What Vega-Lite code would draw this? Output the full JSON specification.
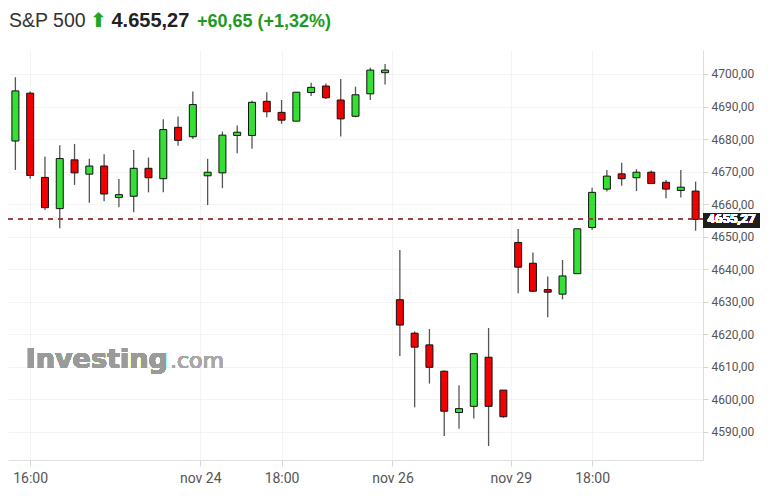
{
  "$schema": "https://vega.github.io/schema/vega-lite/v6.json",
  "autosize": {"type": "none"},
  "padding": {"left": 8, "top": 50, "right": 68, "bottom": 38},
  "width": 695,
  "height": 410,
  "background": "white",
  "config": {"view": {"stroke": null}},
  "data": {"values": [
    {"i":1,"open":4679.4,"high":4699.0,"low":4670.5,"close":4694.8},
    {"i":2,"open":4694.1,"high":4694.6,"low":4667.8,"close":4668.8},
    {"i":3,"open":4668.2,"high":4674.6,"low":4658.2,"close":4658.9},
    {"i":4,"open":4658.6,"high":4678.1,"low":4652.6,"close":4674.0},
    {"i":5,"open":4673.6,"high":4678.5,"low":4665.9,"close":4669.6},
    {"i":6,"open":4669.2,"high":4673.9,"low":4660.4,"close":4671.7},
    {"i":7,"open":4671.7,"high":4675.3,"low":4660.9,"close":4663.1},
    {"i":8,"open":4662.0,"high":4667.7,"low":4659.0,"close":4662.9},
    {"i":9,"open":4662.4,"high":4676.6,"low":4657.5,"close":4671.0},
    {"i":10,"open":4671.0,"high":4674.3,"low":4663.6,"close":4668.1},
    {"i":11,"open":4667.8,"high":4686.1,"low":4663.6,"close":4682.9},
    {"i":12,"open":4683.6,"high":4686.9,"low":4677.9,"close":4679.6},
    {"i":13,"open":4680.7,"high":4694.6,"low":4680.0,"close":4690.6},
    {"i":14,"open":4668.7,"high":4673.9,"low":4659.7,"close":4669.8},
    {"i":15,"open":4669.6,"high":4682.3,"low":4664.9,"close":4681.2},
    {"i":16,"open":4681.1,"high":4684.2,"low":4675.6,"close":4682.1},
    {"i":17,"open":4681.1,"high":4691.8,"low":4677.0,"close":4691.3},
    {"i":18,"open":4691.6,"high":4694.4,"low":4686.7,"close":4688.4},
    {"i":19,"open":4688.2,"high":4692.0,"low":4684.7,"close":4685.8},
    {"i":20,"open":4685.5,"high":4694.4,"low":4685.5,"close":4694.4},
    {"i":21,"open":4694.3,"high":4697.3,"low":4693.2,"close":4695.9},
    {"i":22,"open":4696.3,"high":4697.1,"low":4692.3,"close":4692.7},
    {"i":23,"open":4692.0,"high":4698.5,"low":4680.8,"close":4686.2},
    {"i":24,"open":4687.0,"high":4696.1,"low":4686.7,"close":4693.6},
    {"i":25,"open":4693.9,"high":4701.9,"low":4692.0,"close":4701.2},
    {"i":26,"open":4700.4,"high":4703.1,"low":4696.8,"close":4701.2},
    {"i":27,"open":4630.6,"high":4645.9,"low":4613.3,"close":4622.8},
    {"i":28,"open":4620.3,"high":4620.8,"low":4597.5,"close":4616.0},
    {"i":29,"open":4616.7,"high":4621.6,"low":4604.8,"close":4609.8},
    {"i":30,"open":4608.6,"high":4608.8,"low":4588.7,"close":4596.3},
    {"i":31,"open":4595.9,"high":4604.3,"low":4590.9,"close":4597.1},
    {"i":32,"open":4597.8,"high":4614.0,"low":4594.1,"close":4614.0},
    {"i":33,"open":4612.9,"high":4621.9,"low":4585.6,"close":4597.8},
    {"i":34,"open":4602.8,"high":4602.8,"low":4594.3,"close":4594.6},
    {"i":35,"open":4648.2,"high":4652.3,"low":4632.6,"close":4640.6},
    {"i":36,"open":4641.8,"high":4645.1,"low":4633.0,"close":4633.2},
    {"i":37,"open":4633.7,"high":4637.7,"low":4625.2,"close":4632.9},
    {"i":38,"open":4632.3,"high":4642.8,"low":4630.7,"close":4637.9},
    {"i":39,"open":4638.6,"high":4652.6,"low":4638.6,"close":4652.4},
    {"i":40,"open":4652.8,"high":4665.0,"low":4652.0,"close":4663.6},
    {"i":41,"open":4664.6,"high":4670.5,"low":4663.9,"close":4668.6},
    {"i":42,"open":4669.3,"high":4672.7,"low":4665.6,"close":4667.8},
    {"i":43,"open":4668.1,"high":4670.7,"low":4664.0,"close":4669.8},
    {"i":44,"open":4669.8,"high":4670.3,"low":4666.3,"close":4666.3},
    {"i":45,"open":4666.7,"high":4667.4,"low":4661.8,"close":4664.6},
    {"i":46,"open":4664.2,"high":4670.5,"low":4662.0,"close":4665.2},
    {"i":47,"open":4664.0,"high":4666.9,"low":4651.8,"close":4655.27}
  ]},
  "resolve": {"axis": {"x": "independent", "y": "independent"}},
  "layer": [
    {
      "mark": {"type": "text", "align": "left", "baseline": "alphabetic", "font": "DejaVu Sans", "fontWeight": "bold", "fontSize": 27, "color": "#9a9a9a", "opacity": 0.7},
      "encoding": {
        "x": {"datum": 1.7, "type": "quantitative", "axis": null},
        "y": {"datum": 4609.6, "type": "quantitative", "axis": null},
        "text": {"value": "Investing"}
      }
    },
    {
      "mark": {"type": "text", "align": "left", "baseline": "alphabetic", "font": "DejaVu Sans", "fontSize": 22, "color": "#a8a8a8", "opacity": 0.7},
      "encoding": {
        "x": {"datum": 11.45, "type": "quantitative", "axis": null},
        "y": {"datum": 4609.6, "type": "quantitative", "axis": null},
        "text": {"value": ".com"}
      }
    },
    {
      "mark": {"type": "rule", "color": "#555555", "strokeWidth": 1.3},
      "encoding": {
        "x": {
          "field": "i", "type": "quantitative",
          "scale": {"domain": [0.5, 47.5], "nice": false, "zero": false, "padding": 0},
          "axis": {
            "orient": "bottom",
            "values": [2, 13.5, 19, 26.5, 34.5, 40],
            "labelExpr": "datum.value == 2 ? '16:00' : datum.value == 13.5 ? 'nov 24' : datum.value == 19 ? '18:00' : datum.value == 26.5 ? 'nov 26' : datum.value == 34.5 ? 'nov 29' : '18:00'",
            "labelFont": "Roboto", "labelFontSize": 14, "labelColor": "#555555",
            "labelBaseline": "alphabetic", "labelPadding": 16,
            "tickSize": 6, "tickColor": "#d6d6d6",
            "domainColor": "#dedede",
            "grid": true, "gridColor": "#f4f4f4",
            "title": "+60,65 (+1,32%)",
            "titleX": 188.5, "titleY": -433.3,
            "titleAlign": "left", "titleAnchor": null, "titleBaseline": "alphabetic",
            "titleFont": "Liberation Sans", "titleFontSize": 18, "titleFontWeight": "bold", "titleColor": "#1f9a1f"
          }
        },
        "y": {
          "field": "low", "type": "quantitative",
          "scale": {"domain": [4581.3, 4707.38], "nice": false, "zero": false, "padding": 0},
          "axis": {
            "orient": "right",
            "values": [4590, 4600, 4610, 4620, 4630, 4640, 4650, 4660, 4670, 4680, 4690, 4700],
            "labelExpr": "replace(format(datum.value, '.2f'), '.', ',')",
            "labelFont": "Roboto", "labelFontSize": 12, "labelColor": "#555555",
            "labelPadding": 3,
            "tickSize": 5, "tickColor": "#d6d6d6",
            "domainColor": "#dedede",
            "grid": true, "gridColor": "#f4f4f4",
            "title": "4.655,27",
            "titleAngle": 0,
            "titleX": -592, "titleY": -23.3,
            "titleAlign": "left", "titleAnchor": null, "titleBaseline": "alphabetic",
            "titleFont": "Liberation Sans", "titleFontSize": 20, "titleFontWeight": "bold", "titleColor": "#222222"
          }
        },
        "y2": {"field": "high"}
      }
    },
    {
      "mark": {"type": "bar", "size": 7, "stroke": "#111111", "strokeWidth": 1},
      "encoding": {
        "x": {
          "field": "i", "type": "quantitative",
          "axis": {
            "orient": "top", "labels": false, "ticks": false, "domain": false, "grid": false,
            "title": "S&P 500",
            "titleX": 0.5, "titleY": -23.3,
            "titleAlign": "left", "titleAnchor": null, "titleBaseline": "alphabetic",
            "titleFont": "Liberation Sans", "titleFontSize": 19.5, "titleFontWeight": "normal", "titleColor": "#333333"
          }
        },
        "y": {
          "field": "open", "type": "quantitative",
          "axis": {
            "orient": "left", "labels": false, "ticks": false, "domain": false, "grid": false,
            "title": "⬆",
            "titleAngle": 0,
            "titleX": 81.5, "titleY": -24,
            "titleAlign": "left", "titleAnchor": null, "titleBaseline": "alphabetic",
            "titleFont": "DejaVu Sans", "titleFontSize": 20, "titleFontWeight": "bold", "titleColor": "#1fa81f"
          }
        },
        "y2": {"field": "close"},
        "fill": {"condition": {"test": "datum.close >= datum.open", "value": "#33e033"}, "value": "#f00000"}
      }
    },
    {
      "mark": {"type": "rule", "color": "#a83a3a", "strokeWidth": 1, "strokeDash": [5, 5], "opacity": 0.85},
      "encoding": {
        "y": {"datum": 4655.27, "type": "quantitative", "axis": null}
      }
    },
    {
      "mark": {"type": "rect", "color": "#1e1e1e"},
      "encoding": {
        "x": {"datum": 47.56, "type": "quantitative", "axis": null},
        "x2": {"datum": 51.3},
        "y": {"datum": 4657.1, "type": "quantitative", "axis": null},
        "y2": {"datum": 4652.8}
      }
    },
    {
      "mark": {"type": "text", "align": "center", "baseline": "middle", "font": "Roboto", "fontWeight": "bold", "fontSize": 13, "color": "white"},
      "encoding": {
        "x": {"datum": 49.43, "type": "quantitative", "axis": null},
        "y": {"datum": 4655.27, "type": "quantitative", "axis": null},
        "text": {"value": "4655,27"}
      }
    }
  ]
}
